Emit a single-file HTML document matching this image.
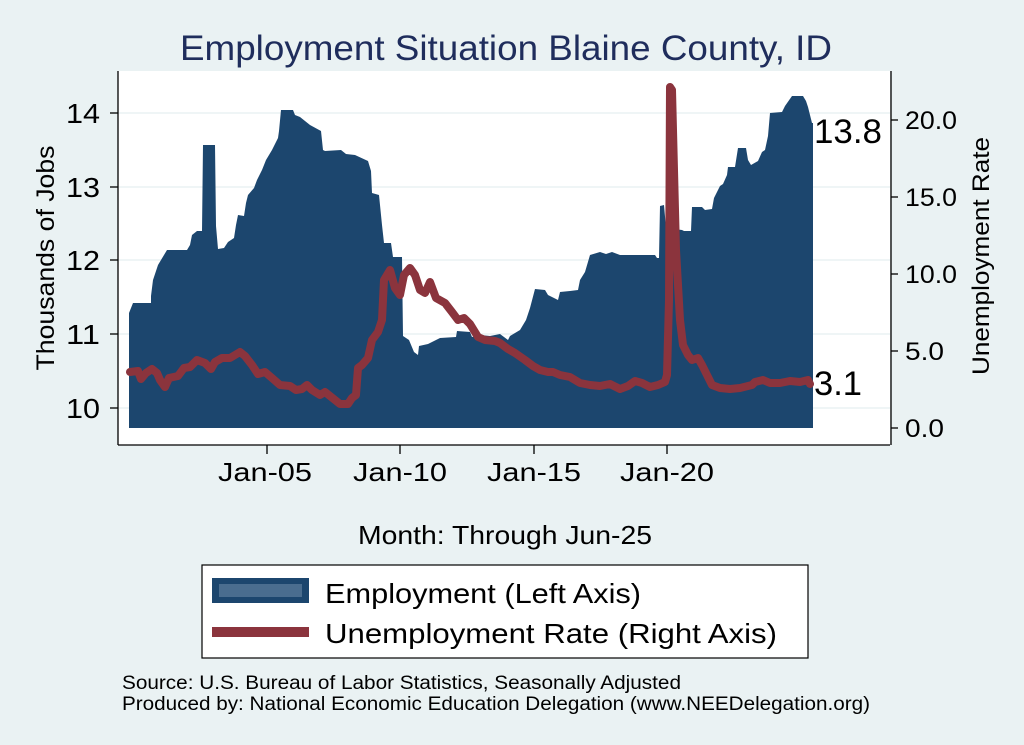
<!DOCTYPE html>
<html><head><meta charset="utf-8"><style>
html,body{margin:0;padding:0;background:#eaf2f3;}
svg{display:block;font-family:"Liberation Sans",Arial,sans-serif;}
</style></head><body>
<svg width="1024" height="745" viewBox="0 0 1024 745" xmlns="http://www.w3.org/2000/svg">
<rect width="1024" height="745" fill="#eaf2f3"/>
<text x="180" y="60" font-size="35" fill="#1f2d5c" textLength="652" lengthAdjust="spacingAndGlyphs">Employment Situation Blaine  County, ID</text>
<rect x="118" y="71" width="772" height="374" fill="#fff"/>
<g stroke="#eaf2f3" stroke-width="1.5">
<line x1="118" x2="890" y1="113" y2="113"/><line x1="118" x2="890" y1="187" y2="187"/>
<line x1="118" x2="890" y1="260" y2="260"/><line x1="118" x2="890" y1="334" y2="334"/>
<line x1="118" x2="890" y1="408" y2="408"/>
</g>
<polygon fill="#1c466e" points="129,428 129,313 133,303 151,303 151,296 153,280 158,265 167,250 187,250 190,245 192,235 197,231 202,231 203,145 215,145 216,226 218,249 224,248 228,242 234,238 236,225 238,215 244,216 246,203 248,195 254,188 257,180 262,170 266,160 272,150 278,138 279,131 281,110 293,110 295,115 300,117 305,121 310,125 321,131 323,150 325,151 341,150 346,154 355,155 368,161 371,171 372,193 379,195 382,225 384,243 391,243 393,257 402,257 403,336 409,340 414,352 418,355 419,346 428,344 440,338 456,337 457,331 470,332 472,337 480,335 490,336 500,334 508,340 510,336 520,330 526,320 530,308 535,289 545,290 548,295 558,300 560,292 570,291 578,290 580,280 585,272 590,255 600,252 606,254 612,252 620,255 655,255 657,258 659,258 660,206 664,205 666,228 682,230 684,231 691,231 692,207 702,207 705,210 712,209 714,198 720,186 723,184 727,175 728,167 735,167 738,148 746,148 748,160 751,165 758,161 762,152 765,150 768,136 770,113 782,112 785,106 792,96 803,96 806,101 808,107 812,123 813,123 813,428"/>
<polyline fill="none" stroke="#8b343d" stroke-width="8" stroke-linejoin="round" stroke-linecap="round" points="130,372 138,371 141,379 146,373 152,369 157,373 160,380 165,387 169,378 178,376 184,368 190,367 197,360 205,363 211,369 215,362 222,358 230,358 240,352 245,356 252,365 258,374 265,372 272,378 280,385 290,386 296,390 302,389 307,385 312,390 320,395 325,392 330,396 335,400 340,404 348,404 352,398 356,395 358,368 362,365 368,358 372,340 378,332 382,320 384,280 390,270 395,288 400,295 404,275 410,268 415,275 420,290 425,293 430,282 436,298 445,303 452,312 458,320 464,318 470,324 478,337 485,340 495,341 500,343 508,349 515,353 525,360 533,366 540,370 548,372 553,372 560,375 570,377 580,383 590,385 600,386 610,384 620,389 628,386 635,381 642,383 650,387 658,385 665,382 667,375 669,300 670,87 672,90 676,250 680,320 683,345 688,355 692,360 698,358 702,365 708,377 712,385 720,388 730,389 740,388 748,386 752,385 755,382 763,380 770,383 780,383 790,381 800,382 808,380 810,384"/>
<g stroke="#000" stroke-width="1.3" fill="none">
<line x1="118" y1="71" x2="118" y2="445"/><line x1="118" y1="445" x2="890" y2="445"/>
<line x1="891" y1="71" x2="891" y2="445"/>
<line x1="110" x2="118" y1="113" y2="113"/><line x1="110" x2="118" y1="187" y2="187"/>
<line x1="110" x2="118" y1="260" y2="260"/><line x1="110" x2="118" y1="334" y2="334"/>
<line x1="110" x2="118" y1="408" y2="408"/>
<line x1="891" x2="898" y1="120" y2="120"/><line x1="891" x2="898" y1="197" y2="197"/>
<line x1="891" x2="898" y1="274" y2="274"/><line x1="891" x2="898" y1="351" y2="351"/>
<line x1="891" x2="898" y1="428" y2="428"/>
<line x1="267" x2="267" y1="445" y2="454"/><line x1="400" x2="400" y1="445" y2="454"/>
<line x1="534" x2="534" y1="445" y2="454"/><line x1="667" x2="667" y1="445" y2="454"/>
</g>
<g font-size="28">
<text x="66" y="123" textLength="34" lengthAdjust="spacingAndGlyphs">14</text>
<text x="66" y="197" textLength="34" lengthAdjust="spacingAndGlyphs">13</text>
<text x="66" y="270" textLength="34" lengthAdjust="spacingAndGlyphs">12</text>
<text x="66" y="344" textLength="34" lengthAdjust="spacingAndGlyphs">11</text>
<text x="66" y="418" textLength="34" lengthAdjust="spacingAndGlyphs">10</text>
</g>
<g font-size="25">
<text x="905" y="129" textLength="52" lengthAdjust="spacingAndGlyphs">20.0</text>
<text x="905" y="206" textLength="52" lengthAdjust="spacingAndGlyphs">15.0</text>
<text x="905" y="283" textLength="52" lengthAdjust="spacingAndGlyphs">10.0</text>
<text x="905" y="360" textLength="39" lengthAdjust="spacingAndGlyphs">5.0</text>
<text x="905" y="437" textLength="39" lengthAdjust="spacingAndGlyphs">0.0</text>
</g>
<text x="814" y="143" font-size="34" textLength="68" lengthAdjust="spacingAndGlyphs">13.8</text>
<text x="814" y="395" font-size="34" textLength="48" lengthAdjust="spacingAndGlyphs">3.1</text>
<g font-size="26">
<text x="218" y="481" textLength="94" lengthAdjust="spacingAndGlyphs">Jan-05</text>
<text x="353" y="481" textLength="94" lengthAdjust="spacingAndGlyphs">Jan-10</text>
<text x="487" y="481" textLength="94" lengthAdjust="spacingAndGlyphs">Jan-15</text>
<text x="620" y="481" textLength="94" lengthAdjust="spacingAndGlyphs">Jan-20</text>
<text x="358" y="544" textLength="294" lengthAdjust="spacingAndGlyphs">Month: Through Jun-25</text>
</g>
<text transform="translate(54,258) rotate(-90)" font-size="25" text-anchor="middle" textLength="225" lengthAdjust="spacingAndGlyphs">Thousands of Jobs</text>
<text transform="translate(989,256) rotate(-90)" font-size="24" text-anchor="middle" textLength="238" lengthAdjust="spacingAndGlyphs">Unemployment Rate</text>
<rect x="202" y="565" width="606" height="93" fill="#fff" stroke="#000" stroke-width="1.2"/>
<rect x="212" y="578" width="97" height="25" fill="#1c466e"/>
<rect x="219" y="584" width="83" height="13" fill="#4a6d8f"/>
<rect x="212" y="627" width="97" height="10" fill="#8b343d"/>
<text x="325" y="603" font-size="28" textLength="316" lengthAdjust="spacingAndGlyphs">Employment (Left Axis)</text>
<text x="325" y="643" font-size="28" textLength="452" lengthAdjust="spacingAndGlyphs">Unemployment Rate (Right Axis)</text>
<text x="122" y="689" font-size="19" textLength="559" lengthAdjust="spacingAndGlyphs">Source: U.S. Bureau of Labor Statistics, Seasonally Adjusted</text>
<text x="122" y="710" font-size="19" textLength="748" lengthAdjust="spacingAndGlyphs">Produced by: National Economic Education Delegation (www.NEEDelegation.org)</text>
</svg>
</body></html>
